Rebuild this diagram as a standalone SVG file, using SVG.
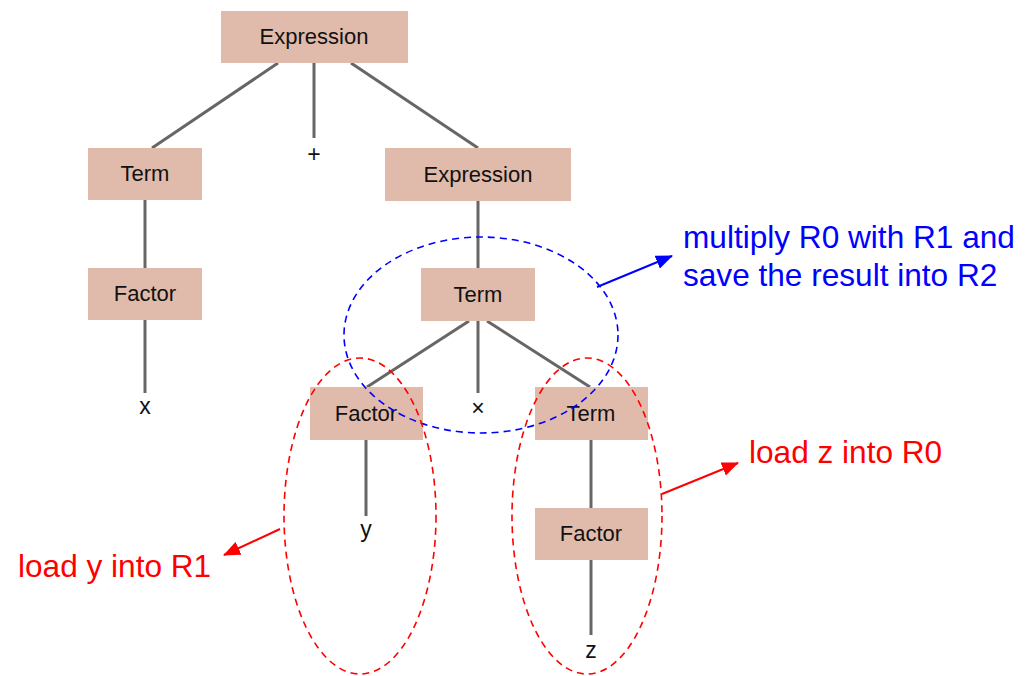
<svg xmlns="http://www.w3.org/2000/svg" width="1033" height="676" viewBox="0 0 1033 676">
  <style>
    .box { fill: #e0bbab; }
    .lbl { font-family: "Liberation Sans", Arial, sans-serif; font-size: 22px; fill: #111; text-anchor: middle; }
    .leaf { font-family: "Liberation Sans", Arial, sans-serif; font-size: 23px; fill: #111; text-anchor: middle; }
    .edge { stroke: #666; stroke-width: 3; fill: none; }
    .ring { fill: none; stroke-width: 1.6; stroke-dasharray: 7 5; }
    .note { font-family: "Liberation Sans", Arial, sans-serif; font-size: 31.6px; }
  </style>
  <defs>
    <marker id="headBlue" markerUnits="userSpaceOnUse" markerWidth="18" markerHeight="14" refX="16" refY="7" orient="auto">
      <path d="M0,0 L17,7 L0,14 Z" fill="#0000ff"/>
    </marker>
    <marker id="headRed" markerUnits="userSpaceOnUse" markerWidth="18" markerHeight="14" refX="16" refY="7" orient="auto">
      <path d="M0,0 L17,7 L0,14 Z" fill="#ff0000"/>
    </marker>
  </defs>
  <rect width="1033" height="676" fill="#ffffff"/>

  <!-- tree edges -->
  <g id="connectors">
    <line class="edge" x1="278" y1="63" x2="152" y2="148"/>
    <line class="edge" x1="314" y1="63" x2="314" y2="138"/>
    <line class="edge" x1="351" y1="63" x2="478" y2="148"/>
    <line class="edge" x1="145" y1="200" x2="145" y2="268"/>
    <line class="edge" x1="145" y1="320" x2="145" y2="393"/>
    <line class="edge" x1="478" y1="201" x2="478" y2="268"/>
    <line class="edge" x1="469" y1="321" x2="367" y2="387"/>
    <line class="edge" x1="478" y1="321" x2="478" y2="393"/>
    <line class="edge" x1="487" y1="321" x2="590" y2="387"/>
    <line class="edge" x1="366" y1="440" x2="366" y2="516"/>
    <line class="edge" x1="591" y1="440" x2="591" y2="508"/>
    <line class="edge" x1="591" y1="560" x2="591" y2="635"/>
  </g>

  <!-- grammar nodes -->
  <g id="expr-root"><rect class="box" x="221" y="11" width="187" height="52"/><text class="lbl" x="314" y="44">Expression</text></g>
  <g id="term-left"><rect class="box" x="88" y="148" width="114" height="52"/><text class="lbl" x="145" y="181">Term</text></g>
  <g id="plus"><text class="leaf" x="314" y="162" font-size="18">+</text></g>
  <g id="expr-right"><rect class="box" x="385" y="148" width="186" height="53"/><text class="lbl" x="478" y="182">Expression</text></g>
  <g id="factor-left"><rect class="box" x="88" y="268" width="114" height="52"/><text class="lbl" x="145" y="301">Factor</text></g>
  <g id="leaf-x"><text class="leaf" x="145" y="414">x</text></g>
  <g id="term-mid"><rect class="box" x="421" y="268" width="114" height="53"/><text class="lbl" x="478" y="302">Term</text></g>
  <g id="factor-y"><rect class="box" x="310" y="387" width="113" height="53"/><text class="lbl" x="366" y="421">Factor</text></g>
  <g id="times"><text class="leaf" x="478" y="416" font-size="27">×</text></g>
  <g id="term-right"><rect class="box" x="535" y="387" width="113" height="53"/><text class="lbl" x="591" y="421">Term</text></g>
  <g id="leaf-y"><text class="leaf" x="366" y="537">y</text></g>
  <g id="factor-z"><rect class="box" x="535" y="508" width="113" height="52"/><text class="lbl" x="591" y="541">Factor</text></g>
  <g id="leaf-z"><text class="leaf" x="591" y="658">z</text></g>

  <!-- annotation rings -->
  <g id="ring-mul"><ellipse class="ring" stroke="#0000ff" cx="481" cy="335" rx="137" ry="98"/></g>
  <g id="ring-y"><ellipse class="ring" stroke="#ff0000" cx="360" cy="516" rx="76" ry="158"/></g>
  <g id="ring-z"><ellipse class="ring" stroke="#ff0000" cx="587" cy="516" rx="75" ry="158"/></g>

  <!-- annotation arrows -->
  <g id="note-arrows">
    <line x1="597" y1="287" x2="672" y2="256" stroke="#0000ff" stroke-width="2" marker-end="url(#headBlue)"/>
    <line x1="662" y1="494" x2="738" y2="463" stroke="#ff0000" stroke-width="2" marker-end="url(#headRed)"/>
    <line x1="280" y1="529" x2="224" y2="555" stroke="#ff0000" stroke-width="2" marker-end="url(#headRed)"/>
  </g>

  <!-- annotation texts -->
  <g id="note-mul" class="note" fill="#0000ff">
    <text x="683" y="248">multiply R0 with R1 and</text>
    <text x="683" y="286">save the result into R2</text>
  </g>
  <g id="note-z"><text class="note" fill="#ff0000" x="749" y="463">load z into R0</text></g>
  <g id="note-y"><text class="note" fill="#ff0000" x="18" y="577">load y into R1</text></g>
</svg>
